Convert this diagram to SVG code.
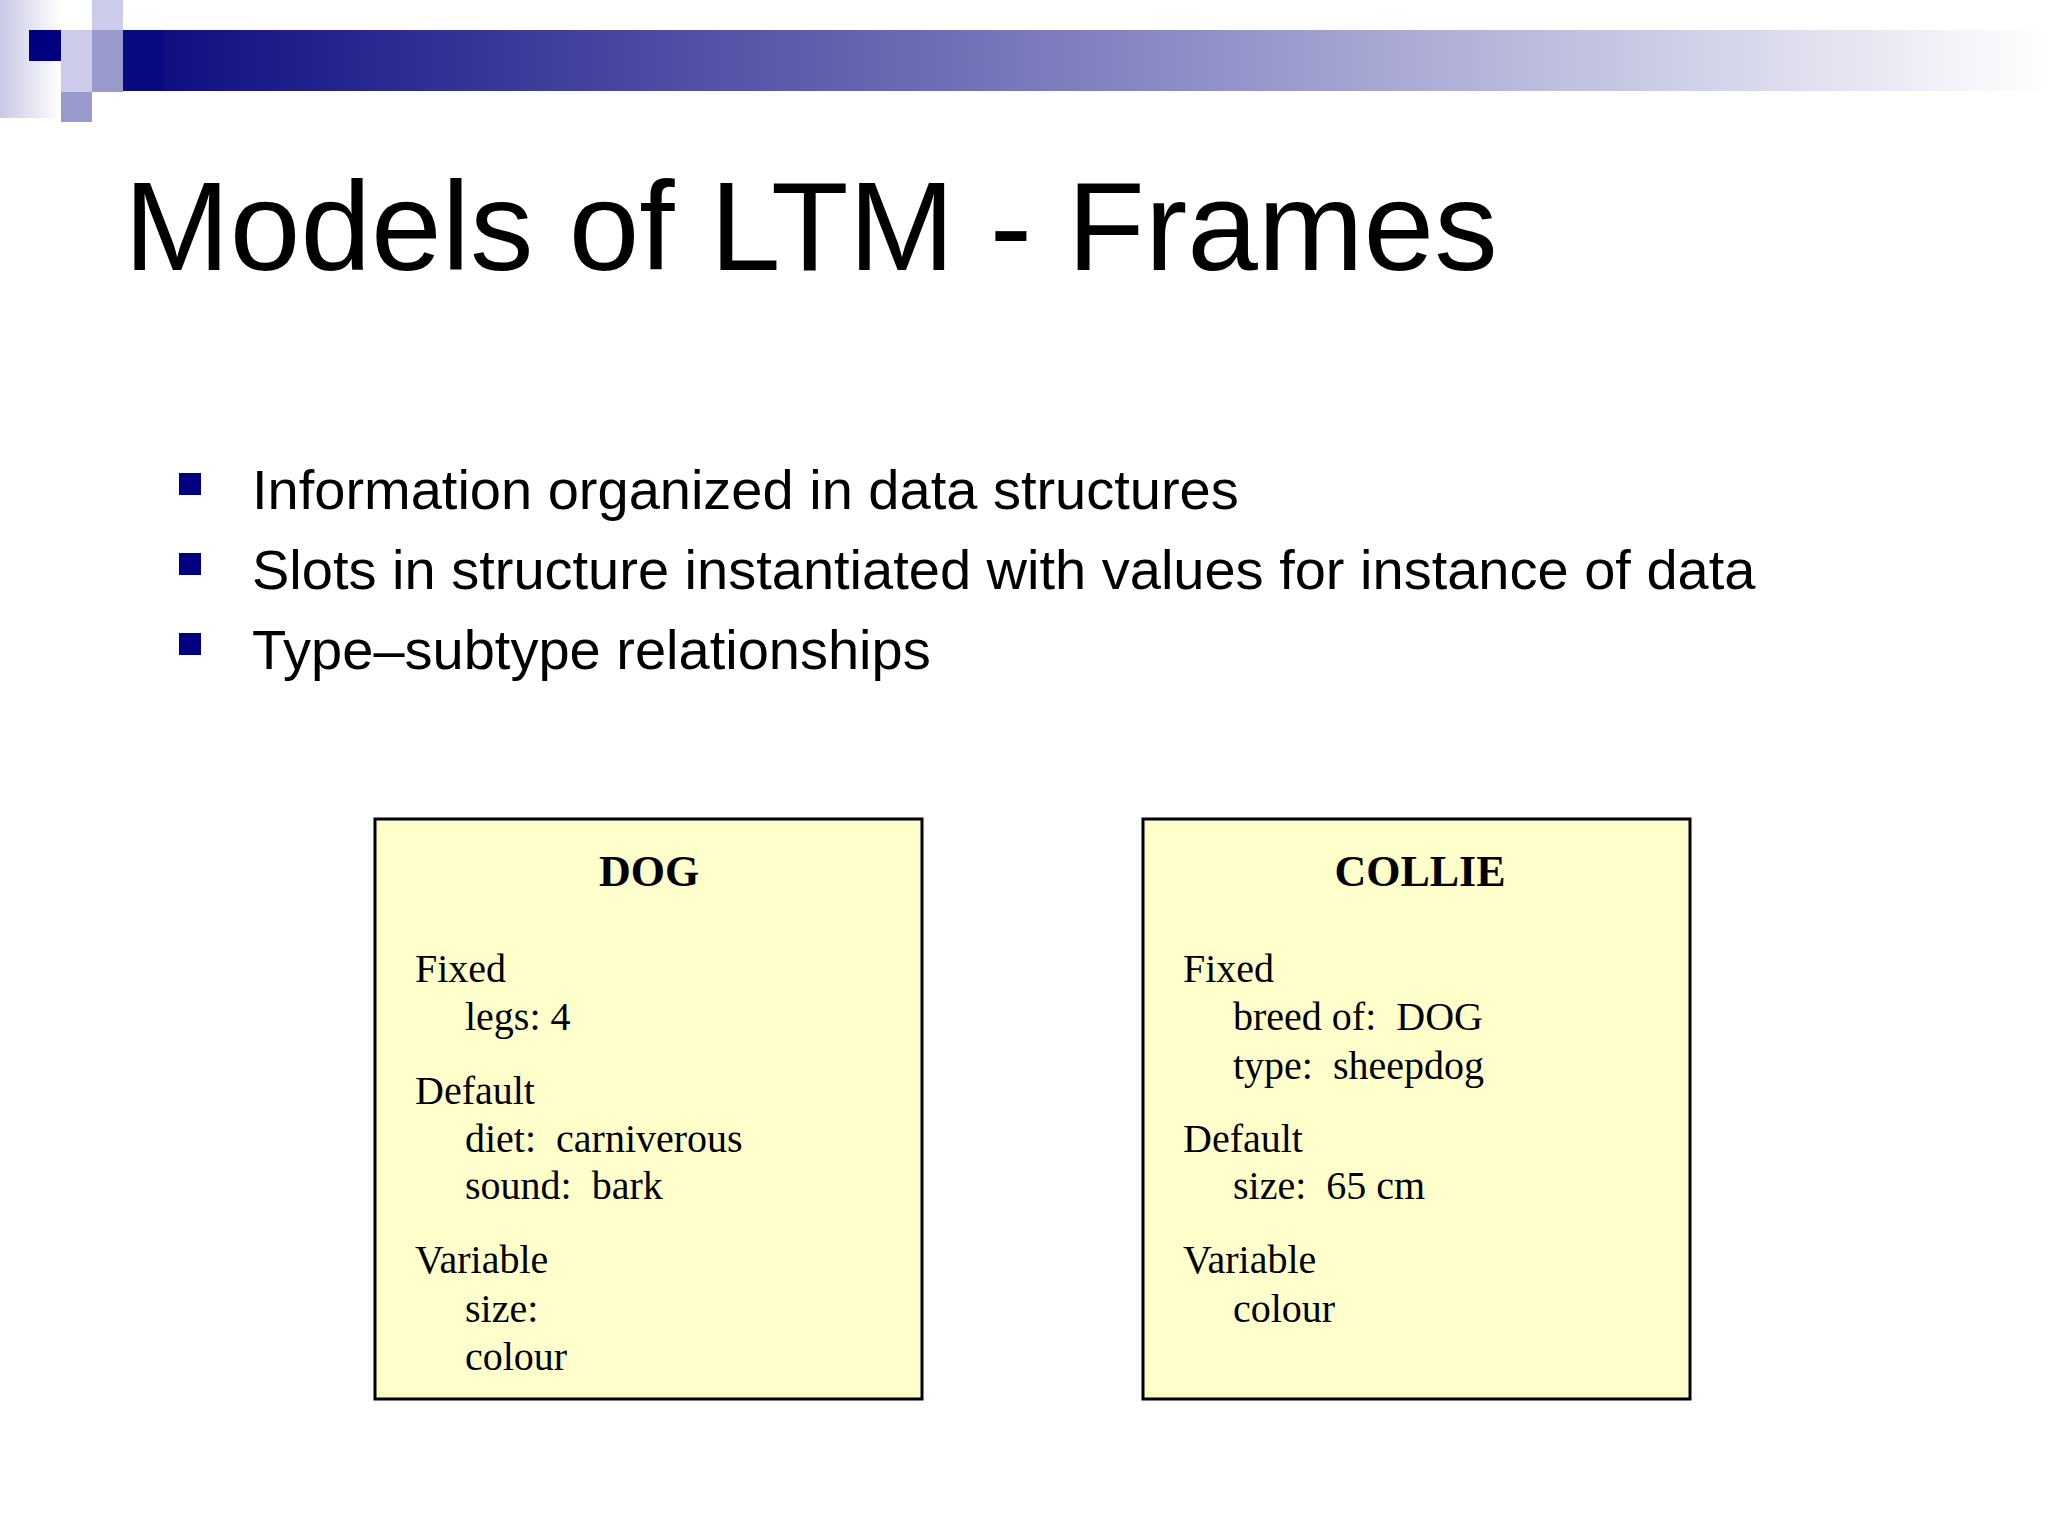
<svg xmlns="http://www.w3.org/2000/svg" width="2048" height="1536" viewBox="0 0 2048 1536">
<defs>
<linearGradient id="bar" x1="0" y1="0" x2="1" y2="0">
<stop offset="0" stop-color="#0a0a80"/>
<stop offset="0.5" stop-color="#8080c0"/>
<stop offset="1" stop-color="#ffffff"/>
</linearGradient>
<linearGradient id="strip" x1="0" y1="0" x2="1" y2="0">
<stop offset="0" stop-color="#c8c8e4"/>
<stop offset="1" stop-color="#ffffff"/>
</linearGradient>
<style>
.box{fill:#ffffcc;stroke:#000;stroke-width:3}
.t{font-family:"Liberation Serif","Times New Roman",serif;font-size:40px;fill:#000}
.h{font-family:"Liberation Serif","Times New Roman",serif;font-size:44px;font-weight:bold;fill:#000}
.b{font-family:"Liberation Sans",Arial,sans-serif;font-size:56px;fill:#000}
</style>
</defs>
<rect width="2048" height="1536" fill="#fff"/>
<g id="header">
<rect x="0" y="0" width="61" height="118" fill="url(#strip)"/>
<rect x="123" y="30" width="1925" height="61" fill="url(#bar)"/>
<rect x="123" y="30" width="40" height="61" fill="#0a0a80"/>
<rect x="29" y="30" width="32" height="31" fill="#000080"/>
<rect x="92" y="0" width="31" height="30" fill="#ccccea"/>
<rect x="92" y="30" width="31" height="31" fill="#9999cc"/>
<rect x="61" y="30" width="31" height="31" fill="#ccccea"/>
<rect x="61" y="61" width="31" height="31" fill="#ccccea"/>
<rect x="92" y="61" width="31" height="31" fill="#9999cc"/>
<rect x="61" y="92" width="31" height="30" fill="#9999cc"/>
</g>
<text x="124" y="270" font-family="Liberation Sans, Arial, sans-serif" font-size="127" fill="#000">Models of LTM - Frames</text>
<g id="bullets">
<rect x="179" y="473" width="22" height="22" fill="#000080"/>
<rect x="179" y="553" width="22" height="22" fill="#000080"/>
<rect x="179" y="633" width="22" height="22" fill="#000080"/>
<text class="b" x="252" y="509">Information organized in data structures</text>
<text class="b" x="252" y="589">Slots in structure instantiated with values for instance of data</text>
<text class="b" x="252" y="669">Type–subtype relationships</text>
</g>
<g id="dog">
<rect class="box" x="375" y="819" width="547" height="580"/>
<text class="h" x="649" y="886" text-anchor="middle">DOG</text>
<text class="t" x="415" y="982">Fixed</text>
<text class="t" x="465" y="1030">legs: 4</text>
<text class="t" x="415" y="1104">Default</text>
<text class="t" x="465" y="1152" xml:space="preserve">diet:  carniverous</text>
<text class="t" x="465" y="1199" xml:space="preserve">sound:  bark</text>
<text class="t" x="415" y="1273">Variable</text>
<text class="t" x="465" y="1322">size:</text>
<text class="t" x="465" y="1370">colour</text>
</g>
<g id="collie">
<rect class="box" x="1143" y="819" width="547" height="580"/>
<text class="h" x="1420" y="886" text-anchor="middle">COLLIE</text>
<text class="t" x="1183" y="982">Fixed</text>
<text class="t" x="1233" y="1030" xml:space="preserve">breed of:  DOG</text>
<text class="t" x="1233" y="1079" xml:space="preserve">type:  sheepdog</text>
<text class="t" x="1183" y="1152">Default</text>
<text class="t" x="1233" y="1199" xml:space="preserve">size:  65 cm</text>
<text class="t" x="1183" y="1273">Variable</text>
<text class="t" x="1233" y="1322">colour</text>
</g>
<g id="connectors"/>
</svg>
